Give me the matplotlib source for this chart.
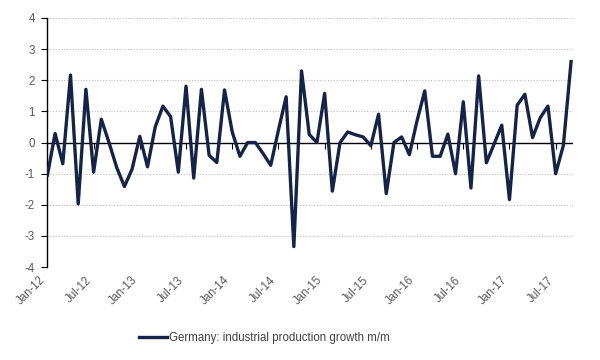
import matplotlib
matplotlib.use('Agg')
import matplotlib.pyplot as plt
import pandas as pd

# ---------- data ----------
months = pd.date_range('2012-01-01', '2017-09-01', freq='MS')
growth = [-1.05, 0.29, -0.68, 2.17, -1.97, 1.71, -0.95, 0.75, 0.0, -0.8,
          -1.41, -0.85, 0.2, -0.78, 0.5, 1.17, 0.83, -0.95, 1.81, -1.14,
          1.71, -0.41, -0.64, 1.69, 0.34, -0.44, 0.0, 0.0, -0.35, -0.73,
          0.4, 1.47, -3.34, 2.3, 0.26, 0.0, 1.58, -1.56, 0.0, 0.34,
          0.25, 0.18, -0.1, 0.91, -1.64, 0.0, 0.18, -0.39, 0.7, 1.66,
          -0.44, -0.44, 0.27, -1.0, 1.31, -1.46, 2.14, -0.65, -0.05, 0.56,
          -1.83, 1.2, 1.55, 0.16, 0.8, 1.17, -1.0, -0.09, 2.6]
series_name = 'Germany: industrial production growth m/m'
y_ticks = [-4, -3, -2, -1, 0, 1, 2, 3, 4]

tick_pos = [i for i, m in enumerate(months) if m.month in (1, 7)]
tick_labels = [months[i].strftime('%b-%y') for i in tick_pos]

# ---------- style ----------
plt.rcParams['font.family'] = ['Liberation Sans', 'DejaVu Sans']
plt.rcParams['axes.unicode_minus'] = False
grey = '#595959'
navy = '#142346'

fig = plt.figure(figsize=(6, 3.6), dpi=100)
ax = fig.add_axes([0.079, 0.258, 0.876, 0.692])

x = list(range(len(growth)))
line, = ax.plot(x, growth, color=navy, lw=2.4, zorder=3, label=series_name)
ax.axhline(0, color='black', lw=1.0, zorder=2)

ax.set_xlim(0, len(growth) - 0.75)
ax.set_ylim(-4, 4)
ax.set_yticks(y_ticks)
ax.grid(axis='y', linestyle=(0, (1, 1.5)), color='#BFBFBF', lw=0.8, zorder=0)

for s in ('top', 'right', 'bottom'):
    ax.spines[s].set_visible(False)
ax.spines['left'].set_color('black')
ax.spines['left'].set_linewidth(1.0)

ax.tick_params(axis='y', direction='out', length=4, width=0.8, color='black',
               labelcolor=grey, labelsize=8.3, pad=5)
ax.set_xticks(tick_pos)
ax.set_xticklabels(tick_labels, rotation=45, ha='right')
ax.tick_params(axis='x', length=0, labelcolor=grey, labelsize=8.3, pad=5)

# small tick marks on the zero line, pointing down
sec = ax.secondary_xaxis(0.5)
sec.set_xticks(tick_pos, labels=[''] * len(tick_pos))
sec.tick_params(direction='in', length=4, width=0.8, color='black',
                labeltop=False, labelbottom=False)
for s in sec.spines.values():
    s.set_visible(False)

fig.legend(handles=[line], loc='center', bbox_to_anchor=(0.44, 0.062),
           frameon=False, handlelength=2.5, handletextpad=0.1,
           prop={'size': 8.3}, labelcolor='#404040')

fig.savefig('out.png', dpi=100, facecolor='white')
plt.close()
